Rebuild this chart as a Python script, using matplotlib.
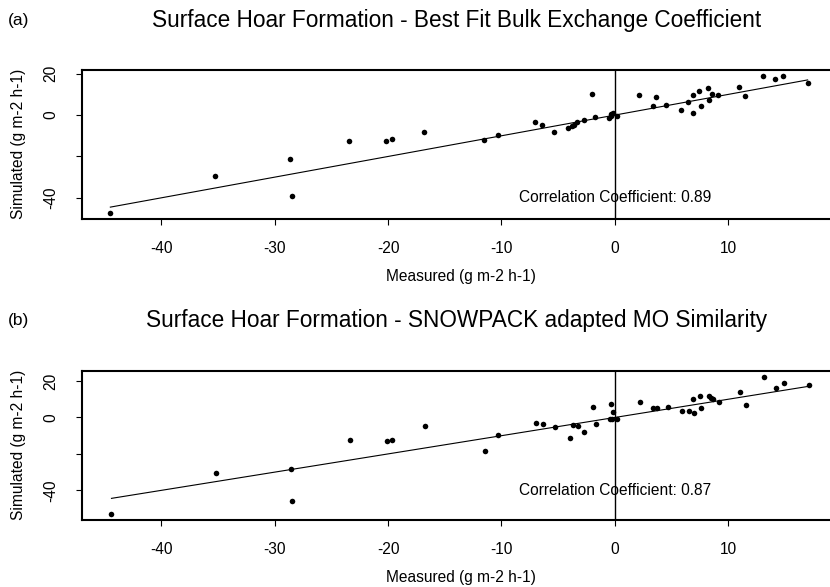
import numpy as np
import matplotlib
matplotlib.use("Agg")
import matplotlib.pyplot as plt

plt.rcParams["font.family"] = ["Liberation Sans", "DejaVu Sans"]
plt.rcParams["axes.unicode_minus"] = False

# (a) best fit bulk exchange coefficient
meas_a = [-44.5, -35.3, -28.66, -28.5, -23.45, -20.15, -19.7, -16.8,
          -11.53, -10.35, -7.06, -6.4, -5.36, -4.09, -3.77, -3.6, -3.3, -2.7,
          -2.0, -1.73, -0.5, -0.38, -0.2, -0.3, 0.15, 2.12, 3.33, 3.62, 4.53,
          5.83, 6.47, 6.86, 6.86, 7.39, 7.56, 8.24, 8.33, 8.53, 9.12, 10.97,
          11.47, 13.1, 14.1, 14.8, 17.0]
sim_a = [-47.4, -29.5, -21.1, -39.2, -12.4, -12.3, -11.5, -8.2,
         -11.9, -9.4, -3.2, -4.8, -8.1, -6.1, -5.3, -5.0, -3.5, -2.6,
         10.0, -0.8, -1.6, 0.3, 0.8, -0.5, -0.2, 9.8, 4.2, 8.7, 4.8,
         2.7, 6.4, 1.0, 9.7, 11.8, 4.5, 12.9, 7.1, 10.0, 9.5, 13.4,
         9.2, 18.9, 17.3, 18.7, 15.6]

# (b) SNOWPACK adapted MO similarity
meas_b = [-44.4, -35.2, -28.56, -28.45, -23.4, -20.07, -19.66, -16.75,
          -11.47, -10.27, -7.0, -6.33, -5.3, -4.0, -3.65, -3.27, -2.7,
          -1.97, -1.65, -0.38, -0.18, -0.41, -0.26, 0.18, 2.2, 3.38, 3.71,
          4.65, 5.91, 6.5, 6.91, 6.97, 7.5, 7.62, 8.33, 8.45, 8.62, 9.2,
          11.06, 11.56, 13.18, 14.18, 14.89, 17.1]
sim_b = [-53.1, -30.5, -28.5, -45.7, -12.1, -13.1, -12.1, -4.6,
         -18.4, -9.4, -2.8, -3.7, -5.0, -11.2, -4.2, -4.6, -7.9,
         5.7, -3.7, 7.2, 3.1, -0.6, -0.9, -0.9, 8.6, 5.0, 5.0,
         5.5, 3.5, 3.8, 10.3, 2.4, 11.7, 5.0, 11.9, 10.8, 10.3, 8.4,
         13.9, 6.6, 22.4, 16.3, 18.9, 17.6]

fit_a = (1.0, 0.0)   # slope, intercept
fit_b = (1.0, 0.0)
corr_a = 0.89
corr_b = 0.87

titles = ["Surface Hoar Formation - Best Fit Bulk Exchange Coefficient",
          "Surface Hoar Formation - SNOWPACK adapted MO Similarity"]
tags = ["(a)", "(b)"]
x_ticks = [-40, -30, -20, -10, 0, 10]
y_ticks = [20, 0, -20, -40]
y_ticklabels = ["20", "0", "", "-40"]

W, H = 830, 587
fig = plt.figure(figsize=(W / 100, H / 100), dpi=100)


def px(x0, y0, x1, y1):
    return [x0 / W, 1 - y1 / H, (x1 - x0) / W, (y1 - y0) / H]


panels = [
    (meas_a, sim_a, fit_a, corr_a, (70, 218.5), (-50.0, 21.8), 20),
    (meas_b, sim_b, fit_b, corr_b, (371, 519.5), (-56.0, 25.5), 320),
]

fs = 11.2
for i, (mx, sy, fit, r, (top, bot), ylim, ty) in enumerate(panels):
    ax = fig.add_axes(px(82, top, 835.5, bot))
    mx = np.array(mx)
    ax.scatter(mx, sy, s=16, color="black", zorder=3, linewidths=0)
    xs = np.array([mx.min(), mx.max()])
    ax.plot(xs, fit[0] * xs + fit[1], color="black", lw=0.8)
    ax.axvline(0, color="black", lw=1.0)
    ax.text(0, -40, "Correlation Coefficient: %.2f" % r, ha="center",
            va="center", fontsize=fs)
    ax.set_xlim(-47.0, 19.46)
    ax.set_ylim(*ylim)
    ax.set_xticks(x_ticks)
    ax.set_xticklabels([str(t) for t in x_ticks])
    ax.set_yticks(y_ticks)
    ax.set_yticklabels(y_ticklabels, rotation=90, va="center")
    ax.tick_params(axis="x", length=4, width=0.8, pad=12, labelsize=fs)
    ax.tick_params(axis="y", length=4, width=0.8, pad=13, labelsize=fs)
    for s in ax.spines.values():
        s.set_linewidth(1.5)
    fig.text(457 / W, 1 - ty / H, titles[i], ha="center", va="center",
             fontsize=16.3)
    fig.text(8 / W, 1 - ty / H, tags[i], ha="left", va="center",
             fontsize=12.5)
    fig.text(461 / W, 1 - (bot + 58) / H, "Measured (g m-2 h-1)",
             ha="center", va="center", fontsize=fs)
    fig.text(18 / W, 1 - ((top + bot) / 2) / H, "Simulated (g m-2 h-1)",
             ha="center", va="center", rotation=90, fontsize=fs)

fig.savefig("out.png", dpi=100)
